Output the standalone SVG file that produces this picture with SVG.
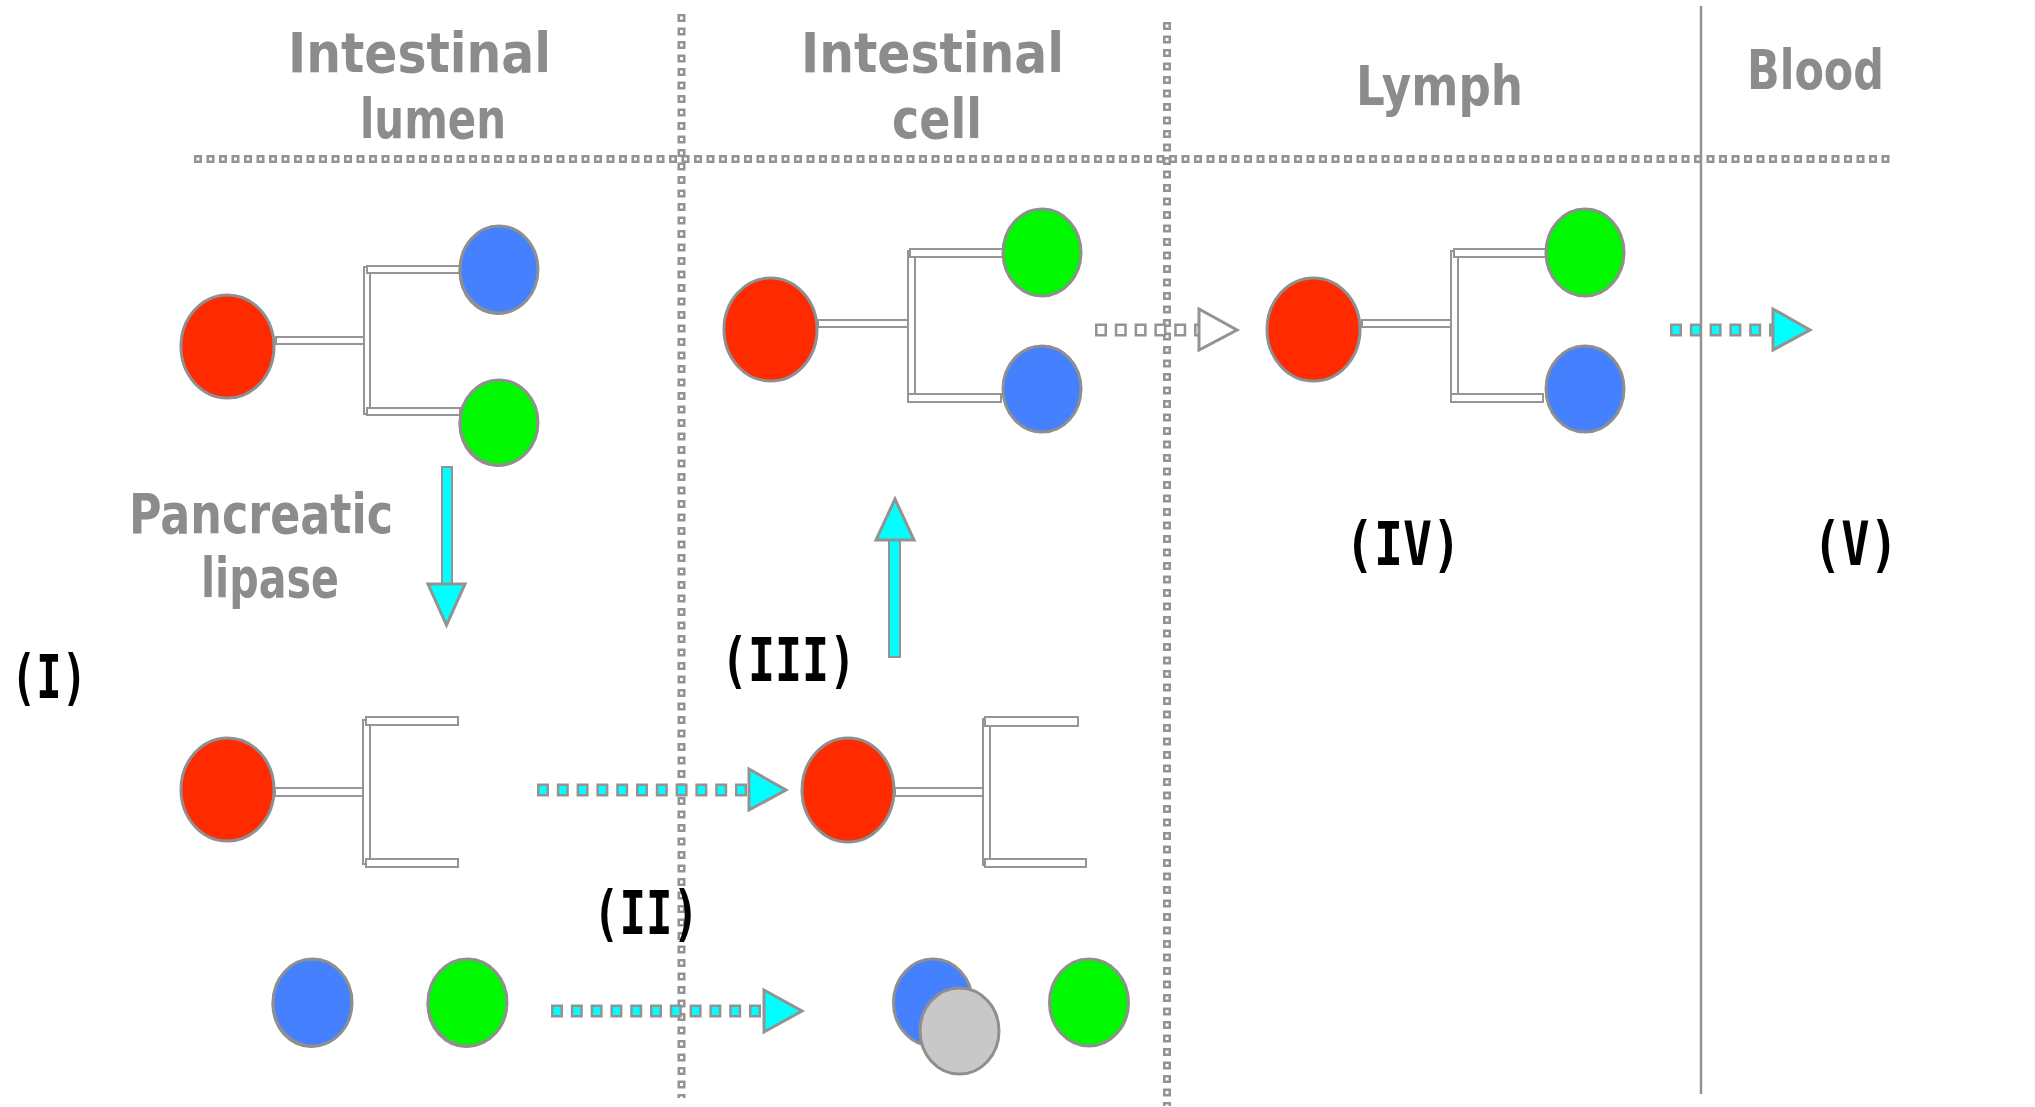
<svg xmlns="http://www.w3.org/2000/svg" width="2035" height="1107" viewBox="0 0 2035 1107">
<style>
.ell{stroke:#8f8f8f;stroke-width:3}
.shadow{fill:#8f8f8f}
.red{fill:#ff2a00}
.blue{fill:#4580ff}
.green{fill:#00f800}
.grey{fill:#c8c8c8}
.bb{fill:#fff;stroke:#959595;stroke-width:2}
.hdr{font-family:"DejaVu Sans",sans-serif;font-weight:bold;font-size:56px;fill:#8c8c8c}
.lbl{font-family:"DejaVu Sans Mono",monospace;font-weight:bold;font-size:60px;fill:#000}
.dvo{stroke:#939393;stroke-width:8;stroke-dasharray:8 5.5;fill:none}
.dvi{stroke:#fff;stroke-width:3;stroke-dasharray:3 10.5;fill:none}
.dho{stroke:#939393;stroke-width:8;stroke-dasharray:8 4.5;fill:none}
.dhi{stroke:#fff;stroke-width:3;stroke-dasharray:3 9.5;fill:none}
.so{stroke:#939393;stroke-width:13;stroke-dasharray:12 7.8;fill:none}
.sic{stroke:#00ffff;stroke-width:8;stroke-dasharray:7 12.8;fill:none}
.siw{stroke:#fff;stroke-width:8;stroke-dasharray:7 12.8;fill:none}
.headc{fill:#00ffff;stroke:#939393;stroke-width:3}
.headw{fill:#fff;stroke:#939393;stroke-width:3}
.shaft{fill:#00ffff;stroke:#939393;stroke-width:2}
</style>

<g id="dividers">
  <path class="dho" d="M194,159 H1892"/>
  <path class="dhi" d="M196.5,159 H1892"/>
  <path class="dvo" d="M681.5,14 V1098"/>
  <path class="dvi" d="M681.5,16.5 V1098"/>
  <path class="dvo" d="M1167,22 V1106"/>
  <path class="dvi" d="M1167,24.5 V1106"/>
  <line x1="1701" y1="6" x2="1701" y2="1094" stroke="#939393" stroke-width="2.5"/>
</g>

<g id="headers">
  <text class="hdr" x="288" y="72" textLength="263" lengthAdjust="spacingAndGlyphs">Intestinal</text>
  <text class="hdr" x="360" y="138" textLength="146" lengthAdjust="spacingAndGlyphs">lumen</text>
  <text class="hdr" x="801" y="72" textLength="263" lengthAdjust="spacingAndGlyphs">Intestinal</text>
  <text class="hdr" x="892" y="138" textLength="90" lengthAdjust="spacingAndGlyphs">cell</text>
  <text class="hdr" x="1356" y="105" textLength="167" lengthAdjust="spacingAndGlyphs">Lymph</text>
  <text class="hdr" x="1747" y="89" textLength="137" lengthAdjust="spacingAndGlyphs">Blood</text>
  <text class="hdr" x="129" y="533" textLength="264" lengthAdjust="spacingAndGlyphs">Pancreatic</text>
  <text class="hdr" x="201" y="597" textLength="138" lengthAdjust="spacingAndGlyphs">lipase</text>
</g>

<g id="labels">
  <text class="lbl" x="11" y="698" textLength="76" lengthAdjust="spacingAndGlyphs">(I)</text>
  <text class="lbl" x="721" y="681" textLength="135" lengthAdjust="spacingAndGlyphs">(III)</text>
  <text class="lbl" x="593" y="934" textLength="106" lengthAdjust="spacingAndGlyphs">(II)</text>
  <text class="lbl" x="1345" y="565" textLength="116" lengthAdjust="spacingAndGlyphs">(IV)</text>
  <text class="lbl" x="1813" y="565" textLength="85" lengthAdjust="spacingAndGlyphs">(V)</text>
</g>

<g id="triglyceride-lumen">
  <rect class="bb" x="276" y="337" width="92" height="7"/>
  <rect class="bb" x="364" y="267" width="6" height="147"/>
  <rect class="bb" x="367" y="266" width="93" height="7"/>
  <rect class="bb" x="367" y="408" width="93" height="7"/>
  <ellipse class="ell red" cx="227.5" cy="346.5" rx="46.5" ry="51.5"/>
  <ellipse class="shadow" cx="497.5" cy="271.5" rx="39" ry="43.5"/>
  <ellipse class="ell blue" cx="499" cy="269.5" rx="39" ry="43.5"/>
  <ellipse class="shadow" cx="497.5" cy="424.5" rx="39" ry="42.5"/>
  <ellipse class="ell green" cx="499" cy="422.5" rx="39" ry="42.5"/>
</g>

<g id="triglyceride-cell">
  <rect class="bb" x="818" y="320" width="94" height="7"/>
  <rect class="bb" x="908" y="251" width="7" height="150"/>
  <rect class="bb" x="910" y="249" width="93" height="8"/>
  <rect class="bb" x="908" y="394" width="93" height="8"/>
  <ellipse class="ell red" cx="770.5" cy="329.5" rx="46.5" ry="51.5"/>
  <ellipse class="ell green" cx="1042" cy="252.5" rx="39" ry="43.5"/>
  <ellipse class="ell blue" cx="1042" cy="389" rx="39" ry="43"/>
</g>

<g id="triglyceride-lymph">
  <rect class="bb" x="1362" y="320" width="93" height="7"/>
  <rect class="bb" x="1451" y="251" width="7" height="147"/>
  <rect class="bb" x="1454" y="249" width="92" height="8"/>
  <rect class="bb" x="1451" y="394" width="92" height="8"/>
  <ellipse class="ell red" cx="1313.5" cy="329.5" rx="46.5" ry="51.5"/>
  <ellipse class="ell green" cx="1585" cy="252.5" rx="39" ry="43.5"/>
  <ellipse class="ell blue" cx="1585" cy="389" rx="39" ry="43"/>
</g>

<g id="monoglyceride-lumen">
  <rect class="bb" x="275" y="788" width="91" height="8"/>
  <rect class="bb" x="363" y="720" width="7" height="144"/>
  <rect class="bb" x="366" y="717" width="92" height="8"/>
  <rect class="bb" x="366" y="859" width="92" height="8"/>
  <ellipse class="ell red" cx="227.5" cy="789.5" rx="46.5" ry="51.5"/>
</g>

<g id="monoglyceride-cell">
  <rect class="bb" x="895" y="788" width="89" height="8"/>
  <rect class="bb" x="983" y="719" width="7" height="146"/>
  <rect class="bb" x="985" y="717" width="93" height="9"/>
  <rect class="bb" x="985" y="859" width="101" height="8"/>
  <ellipse class="ell red" cx="848" cy="790" rx="46" ry="52"/>
</g>

<g id="fatty-acids-lumen">
  <ellipse class="shadow" cx="311" cy="1004.5" rx="39.5" ry="43.5"/>
  <ellipse class="ell blue" cx="312.5" cy="1002.5" rx="39.5" ry="43.5"/>
  <ellipse class="shadow" cx="466" cy="1004.5" rx="39.5" ry="43.5"/>
  <ellipse class="ell green" cx="467.5" cy="1002.5" rx="39.5" ry="43.5"/>
</g>

<g id="fatty-acids-cell">
  <ellipse class="ell blue" cx="933" cy="1002.5" rx="39.5" ry="43.5"/>
  <ellipse class="ell grey" cx="959.5" cy="1031" rx="39.5" ry="43"/>
  <ellipse class="ell green" cx="1089" cy="1002.5" rx="39.5" ry="43.5"/>
</g>

<g id="connectors">
  <rect class="shaft" x="442" y="467" width="10" height="118"/>
  <polygon class="headc" points="428,584 465,584 446.5,625"/>
  <rect class="shaft" x="889" y="540" width="11" height="117"/>
  <polygon class="headc" points="876,540 914,540 895,499"/>
  <path class="so" d="M1095,330 H1203"/>
  <path class="siw" d="M1097.5,330 H1203"/>
  <polygon class="headw" points="1199,309 1237,330 1199,350"/>
  <path class="so" d="M1670,330 H1777"/>
  <path class="sic" d="M1672.5,330 H1777"/>
  <polygon class="headc" points="1773,309 1810,330 1773,350"/>
  <path class="so" d="M537,790 H753"/>
  <path class="sic" d="M539.5,790 H753"/>
  <polygon class="headc" points="749,769 786,790 749,810"/>
  <path class="so" d="M551,1011 H768"/>
  <path class="sic" d="M553.5,1011 H768"/>
  <polygon class="headc" points="764,990 802,1011 764,1032"/>
</g>
</svg>
